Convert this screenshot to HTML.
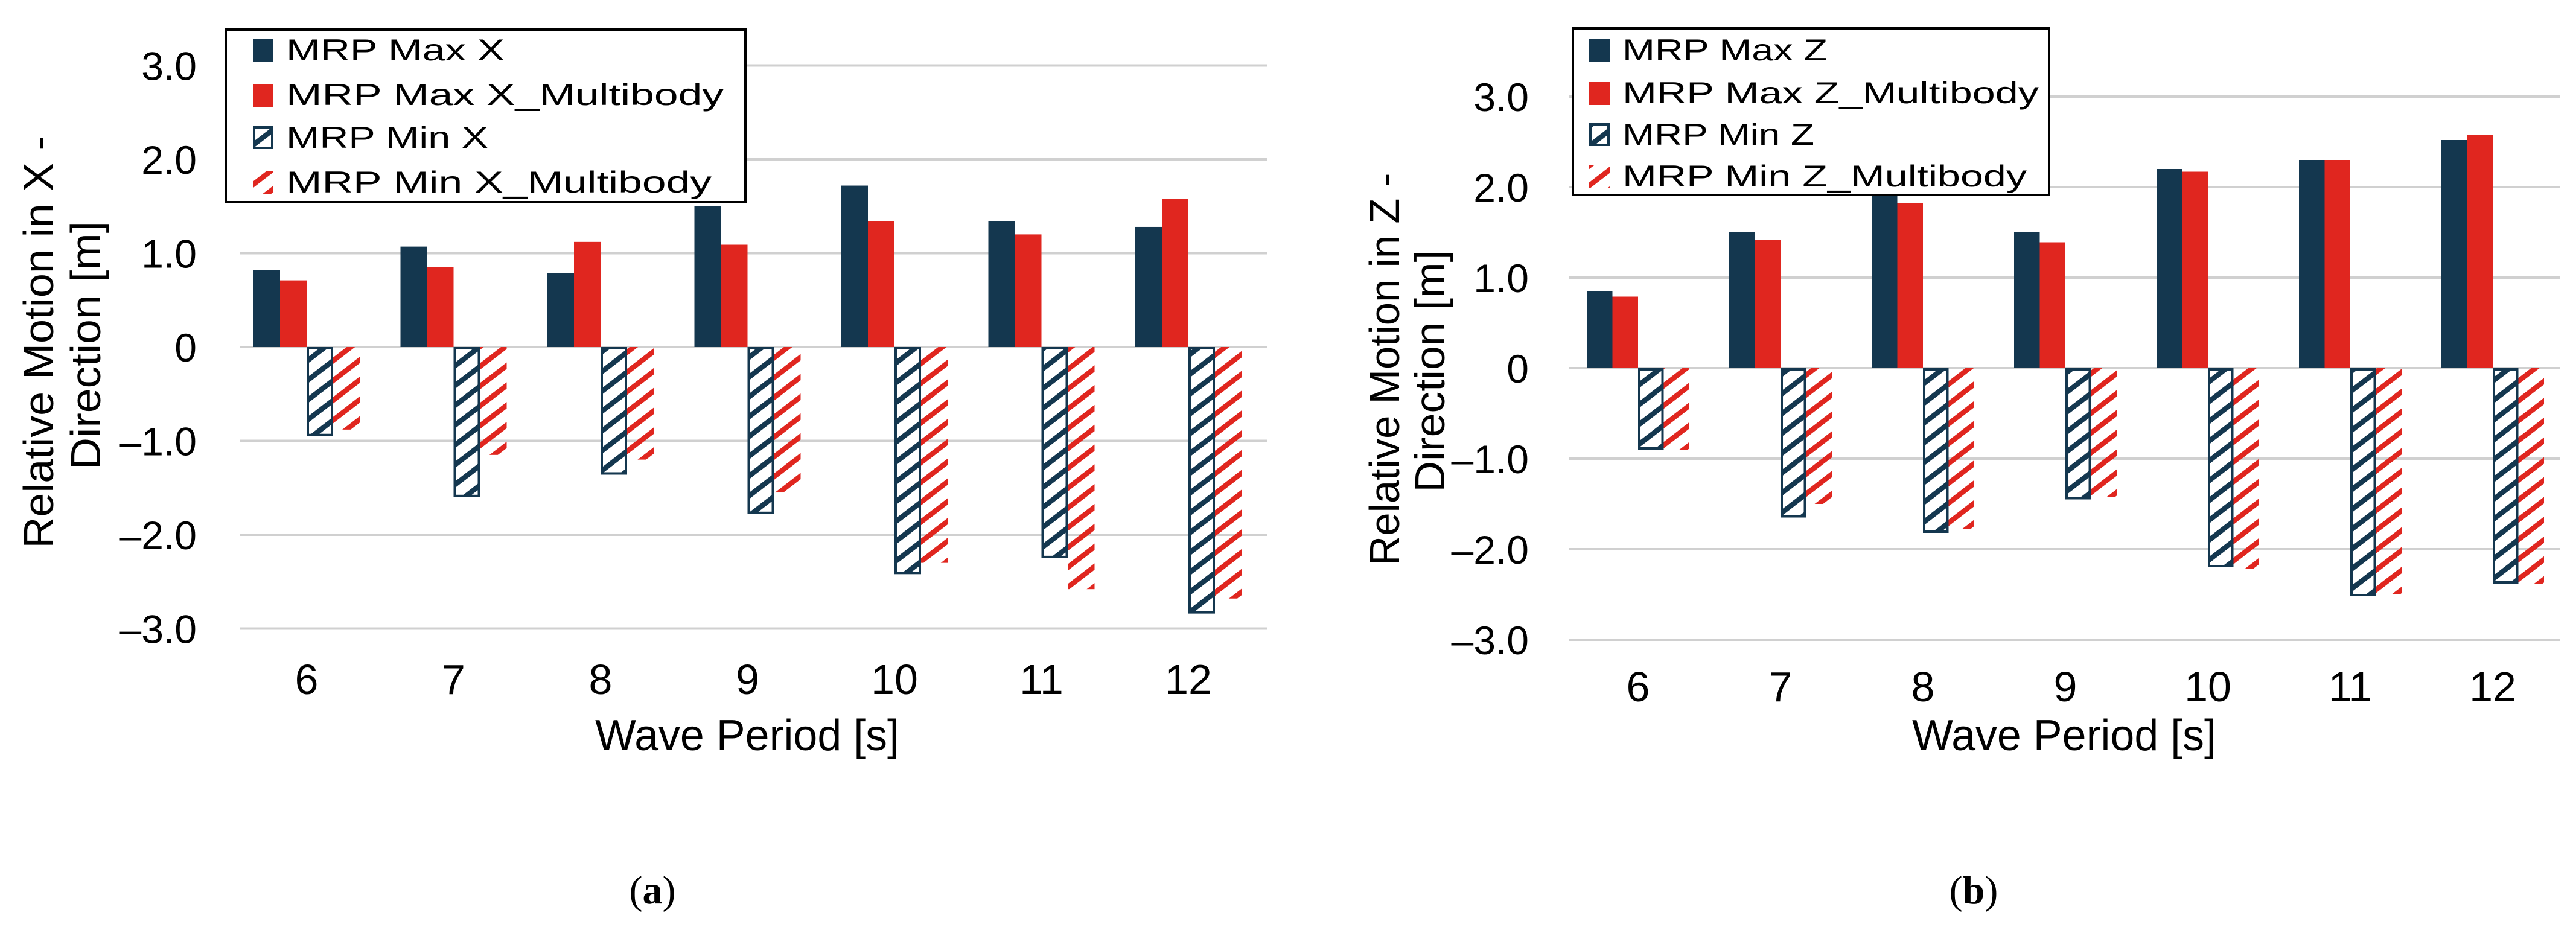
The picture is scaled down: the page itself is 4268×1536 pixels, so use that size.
<!DOCTYPE html>
<html><head><meta charset="utf-8"><style>
html,body{margin:0;padding:0;background:#fff;}
svg{display:block;font-family:"Liberation Sans",sans-serif;}
</style></head><body>
<svg id="fig" width="4268" height="1536" viewBox="0 0 4268 1536" xmlns="http://www.w3.org/2000/svg">
<defs>
<pattern id="hatchDark" patternUnits="userSpaceOnUse" width="100" height="26" patternTransform="rotate(-37.6)">
<rect x="0" y="0" width="100" height="8.5" fill="#14374f"/>
</pattern>
<pattern id="hatchRed" patternUnits="userSpaceOnUse" width="100" height="26" patternTransform="rotate(-37.6)">
<rect x="0" y="0" width="100" height="8.5" fill="#e0261f"/>
</pattern>
</defs>
<g id="chartA"></g>
<g id="chartB"></g>
<text x="1081" y="1497" text-anchor="middle" font-family="Liberation Serif, serif" font-size="66" fill="#000">(<tspan font-weight="bold">a</tspan>)</text>
<text x="3270" y="1497" text-anchor="middle" font-family="Liberation Serif, serif" font-size="66" fill="#000">(<tspan font-weight="bold">b</tspan>)</text>
</svg>
<script>
const categories = ["6","7","8","9","10","11","12"];
const tickValues = [3,2,1,0,-1,-2,-3];
const tickLabels = ["3.0","2.0","1.0","0","\u20131.0","\u20132.0","\u20133.0"];
const maxX = [0.82,1.07,0.79,1.50,1.72,1.34,1.28];
const maxXMB = [0.71,0.85,1.12,1.09,1.34,1.20,1.58];
const minX = [-0.95,-1.60,-1.36,-1.78,-2.42,-2.25,-2.84];
const minXMB = [-0.88,-1.15,-1.20,-1.55,-2.30,-2.58,-2.68];
const maxZ = [0.85,1.50,1.90,1.50,2.20,2.30,2.52];
const maxZMB = [0.79,1.42,1.82,1.39,2.17,2.30,2.58];
const minZ = [-0.90,-1.65,-1.82,-1.45,-2.20,-2.52,-2.38];
const minZMB = [-0.90,-1.50,-1.78,-1.42,-2.22,-2.50,-2.38];
const legendA = ["MRP Max X","MRP Max X_Multibody","MRP Min X","MRP Min X_Multibody"];
const legendB = ["MRP Max Z","MRP Max Z_Multibody","MRP Min Z","MRP Min Z_Multibody"];

const NS="http://www.w3.org/2000/svg";
function mk(parent,tag,attrs,text){const e=document.createElementNS(NS,tag);for(const k in attrs)e.setAttribute(k,attrs[k]);if(text!==undefined)e.textContent=text;parent.appendChild(e);return e;}

function drawChart(g,cfg){
  const yS=v=>cfg.zeroY - v*cfg.unit;
  const xS=i=>cfg.cx0 + i*cfg.step;
  tickValues.forEach((v,i)=>{
    const l=mk(g,'line',{x1:cfg.gx1,x2:cfg.gx2,y1:yS(v),y2:yS(v),stroke:'#d0d0d0','stroke-width':4});
    
    
    const t=mk(g,'text',{x:cfg.tickRight,y:yS(v)+24,'text-anchor':'end','font-size':66,fill:'#000'},tickLabels[i]);
    
    
  });
  const bw=cfg.bw;
  const series=[cfg.s[0],cfg.s[1],cfg.s[2],cfg.s[3]];
  categories.forEach((c,i)=>{
    const left=xS(i)-2*bw;
    series.forEach((arr,k)=>{
      const v=arr[i];
      const y0=yS(0), y1=yS(v);
      const x=left+k*bw;
      const top=Math.min(y0,y1), h=Math.abs(y1-y0);
      let r;
      if(k===0) r=mk(g,'rect',{x:x,y:top,width:bw,height:h,fill:'#14374f'});
      else if(k===1) r=mk(g,'rect',{x:x,y:top,width:bw,height:h,fill:'#e0261f'});
      else if(k===2){
        mk(g,'rect',{x:x,y:top,width:bw,height:h,fill:'#fff'});
        r=mk(g,'rect',{x:x+2,y:top+2,width:bw-4,height:h-4,fill:'url(#hatchDark)',stroke:'#14374f','stroke-width':4});
      } else r=mk(g,'rect',{x:x,y:top,width:bw,height:h,fill:'url(#hatchRed)'});
      
      
    });
    const t=mk(g,'text',{x:xS(i),y:cfg.xTickY,'text-anchor':'middle','font-size':70,fill:'#000'},c);
    
    
  });
  const xt=mk(g,'text',{x:cfg.xTitleX,y:1243,'text-anchor':'middle','font-size':72,fill:'#000',textLength:504,lengthAdjust:'spacingAndGlyphs'},'Wave Period [s]');
  
  
  const yt1=mk(g,'text',{x:0,y:0,'text-anchor':'middle','font-size':70,fill:'#000',transform:`translate(${cfg.yt1x},${cfg.yt1c}) rotate(-90)`,textLength:cfg.yt1len,lengthAdjust:'spacingAndGlyphs'},cfg.yTitle1);
  
  
  const yt2=mk(g,'text',{x:0,y:0,'text-anchor':'middle','font-size':70,fill:'#000',transform:`translate(${cfg.yt2x},${cfg.yt2c}) rotate(-90)`,textLength:cfg.yt2len,lengthAdjust:'spacingAndGlyphs'},'Direction [m]');
  
  
  // legend
  const L=cfg.leg;
  const lg=mk(g,'g',{});
  
  
  mk(lg,'rect',{x:L.x,y:L.y,width:L.w,height:L.h,fill:'#fff',stroke:'#000','stroke-width':4});
  cfg.legend.forEach((name,k)=>{
    const cy=L.rows[k];
    const mx=L.mx, ms=34;
    if(k===0) mk(lg,'rect',{x:mx,y:cy-18,width:ms,height:38,fill:'#14374f'});
    else if(k===1) mk(lg,'rect',{x:mx,y:cy-18,width:ms,height:38,fill:'#e0261f'});
    else if(k===2) mk(lg,'rect',{x:mx+2,y:cy-17,width:ms-4,height:34,fill:'url(#hatchDark)',stroke:'#14374f','stroke-width':4});
    else mk(lg,'rect',{x:mx,y:cy-18,width:ms,height:38,fill:'url(#hatchRed)'});
    const t=mk(lg,'text',{x:L.tx,y:cy+17,'font-size':50,fill:'#000',textLength:L.lens[k],lengthAdjust:'spacingAndGlyphs'},name);
    
    
  });
}

drawChart(document.getElementById('chartA'),{
  zeroY:575, unit:155.5, cx0:508, step:243.5, bw:44, gx1:397, gx2:2100, tickRight:326, xTickY:1150, xTitleX:1238,
  s:[maxX,maxXMB,minX,minXMB], yTitle1:'Relative Motion in X -', yt1x:88, yt1c:567, yt1len:683, yt2x:166, yt2c:572, yt2len:412,
  legend:legendA, leg:{x:374,y:49,w:861,h:286,mx:419,tx:474,rows:[83,157,228,302],lens:[362,725,335,705]}
});
drawChart(document.getElementById('chartB'),{
  zeroY:610, unit:150, cx0:2714, step:236, bw:42.5, gx1:2599, gx2:4241, tickRight:2533, xTickY:1162, xTitleX:3420,
  s:[maxZ,maxZMB,minZ,minZMB], yTitle1:'Relative Motion in Z -', yt1x:2318, yt1c:612, yt1len:651, yt2x:2393, yt2c:615, yt2len:401,
  legend:legendB, leg:{x:2606,y:47,w:789,h:276,mx:2633,tx:2688,rows:[83,154,223,292],lens:[340,690,318,670]}
});
</script>
</body></html>
